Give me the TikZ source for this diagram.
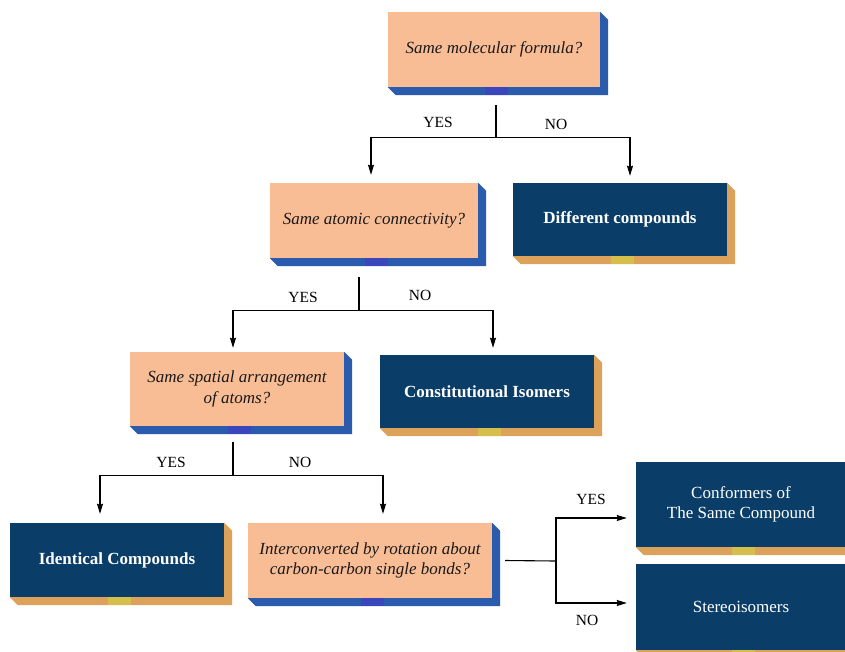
\documentclass[tikz,border=0pt]{standalone}
\usepackage{fontspec}
\setmainfont{Liberation Serif}
\usetikzlibrary{arrows.meta,backgrounds,calc}
\definecolor{peach}{HTML}{F9BD95}
\definecolor{navy}{HTML}{0A3E68}
\definecolor{blueside}{HTML}{2A5BAC}
\definecolor{orangeside}{HTML}{DCA25A}
\definecolor{bluetab}{HTML}{3A46BC}
\definecolor{goldtab}{HTML}{D6BE4C}
\tikzset{
  qbox/.style={fill=peach, inner sep=0pt, align=center, font=\fontsize{17}{20.5}\selectfont\itshape, text=black!90},
  abox/.style={fill=navy, inner sep=0pt, align=center, font=\fontsize{17}{20}\selectfont\bfseries, text=white},
  rbox/.style={fill=navy, inner sep=0pt, align=center, font=\fontsize{17}{20.5}\selectfont, text=white},
  conn/.style={line width=1.1pt, black},
  arr/.style={conn, -{Stealth[length=10pt,width=6pt,inset=1pt]}},
  lbl/.style={font=\fontsize{15.5}{18}\selectfont, inner sep=0pt}
}
\newcommand{\extrude}[3]{%
  \begin{scope}[on background layer]
    \fill[#2] (#1.north east) -- ([shift={(8,8)}]#1.north east) -- ([shift={(8,8)}]#1.south east) -- ([shift={(8,8)}]#1.south west) -- (#1.south west) -- cycle;
    \fill[#3] ([shift={(-9,0)}]#1.south) rectangle ([shift={(14,8)}]#1.south);
  \end{scope}}
\begin{document}
\begin{tikzpicture}[x=1pt,y=-1pt]
\useasboundingbox (0,0) rectangle (845,651);
% boxes
\node[qbox, minimum width=212pt, minimum height=75pt] (q1) at (494,49.5) {Same molecular formula?};
\extrude{q1}{blueside}{bluetab}
\node[qbox, minimum width=208pt, minimum height=75pt] (q2) at (374,220.5) {Same atomic connectivity?};
\extrude{q2}{blueside}{bluetab}
\node[abox, minimum width=214pt, minimum height=73pt] (a1) at (620,219.5) {Different compounds};
\extrude{a1}{orangeside}{goldtab}
\node[qbox, minimum width=214pt, minimum height=74pt] (q3) at (237,389) {Same spatial arrangement\\of atoms?};
\extrude{q3}{blueside}{bluetab}
\node[abox, minimum width=214pt, minimum height=73pt] (a2) at (487,391.5) {Constitutional Isomers};
\extrude{a2}{orangeside}{goldtab}
\node[abox, minimum width=214pt, minimum height=74pt] (a3) at (117,560) {Identical Compounds};
\extrude{a3}{orangeside}{goldtab}
\node[qbox, minimum width=244pt, minimum height=75pt] (q4) at (370,560.5) {Interconverted by rotation about\\carbon-carbon single bonds?};
\extrude{q4}{blueside}{bluetab}
\node[rbox, minimum width=210pt, minimum height=85pt] (a4) at (741,504.5) {Conformers of\\The Same Compound};
\extrude{a4}{orangeside}{goldtab}
\node[rbox, minimum width=210pt, minimum height=86pt] (a5) at (741,607) {Stereoisomers};
\extrude{a5}{orangeside}{goldtab}
% connectors level 1
\coordinate (s1) at ([shift={(2,18)}]q1.south);
\coordinate (j1) at ($(s1)+(0,32)$);
\draw[conn] (s1) -- (j1);
\draw[arr, shorten >=8pt] (j1) -| ([xshift=-3]q2.north);
\draw[arr, shorten >=7pt] (j1) -| ([xshift=10]a1.north);
\node[lbl] (y1) at (438,122) {YES};
\node[lbl] (n1) at (556,124) {NO};
% level 2
\coordinate (s2) at ([shift={(-15,19)}]q2.south);
\coordinate (j2) at ($(s2)+(0,33)$);
\draw[conn] (s2) -- (j2);
\draw[arr, shorten >=4pt] (j2) -| ([xshift=-4]q3.north);
\draw[arr, shorten >=7pt] (j2) -| ([xshift=6]a2.north);
\node[lbl] (y2) at (303,297) {YES};
\node[lbl] (n2) at (420,295) {NO};
% level 3
\coordinate (s3) at ([shift={(-4,16)}]q3.south);
\coordinate (j3) at ($(s3)+(0,33)$);
\draw[conn] (s3) -- (j3);
\draw[arr, shorten >=9pt] (j3) -| ([xshift=-17]a3.north);
\draw[arr, shorten >=9pt] (j3) -| ([xshift=13]q4.north);
\node[lbl] (y3) at (171,462) {YES};
\node[lbl] (n3) at (300,462) {NO};
% level 4
\coordinate (s4) at ([xshift=13]q4.east);
\coordinate (j4) at (556,561);
\draw[conn] (s4) -- (j4);
\draw[arr, shorten >=9pt] (j4) |- (a4.west |- 0,518);
\draw[arr, shorten >=9pt] (j4) |- (a5.west |- 0,603);
\node[lbl] (y4) at (591,499) {YES};
\node[lbl] (n4) at (587,620) {NO};
\end{tikzpicture}
\end{document}
